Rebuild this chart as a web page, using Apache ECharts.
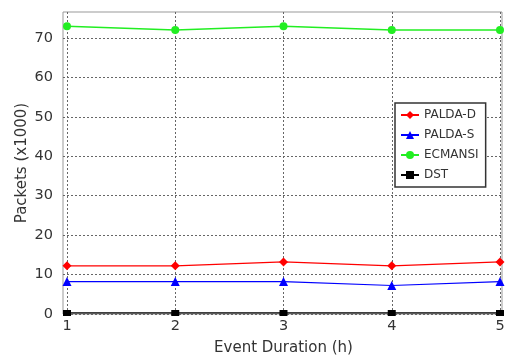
<!DOCTYPE html>
<html>
<head>
<meta charset="utf-8">
<script src="https://cdn.jsdelivr.net/npm/echarts@6/dist/echarts.min.js"></script>
<style>
html,body{margin:0;padding:0;background:#fff;}
#chart{width:509px;height:361px;}
</style>
</head>
<body>
<div id="chart"></div>
<script>
const durations = [1, 2, 3, 4, 5];
const paldaD = [12, 12, 13, 12, 13];
const paldaS = [8, 8, 8, 7, 8];
const ecmansi = [73, 72, 73, 72, 72];
const dst = [0, 0, 0, 0, 0];
const yTicks = [0, 10, 20, 30, 40, 50, 60, 70];

const pairs = vals => durations.map((d, i) => [d, vals[i]]);
const font = 'DejaVu Sans';
const txt = '#333';
const gridLine = { show: true, showMaxLine: false, lineStyle: { color: '#666', width: 1, type: [2, 2] } };

const chart = echarts.init(document.getElementById('chart'), null, { renderer: 'canvas' });
chart.setOption({
  animation: false,
  backgroundColor: '#fff',
  textStyle: { fontFamily: font },
  grid: [
    { left: 63, right: 7, top: 12, bottom: 47, show: true, borderColor: '#999', borderWidth: 1, backgroundColor: 'transparent' },
    { left: 67, right: 9, top: 12, bottom: 47 }
  ],
  xAxis: [
    { gridIndex: 0, type: 'value', min: 0, max: 1, show: false },
    {
      gridIndex: 1, type: 'value', min: durations[0], max: durations[durations.length - 1], interval: 1,
      axisLine: { show: false }, axisTick: { show: false },
      axisLabel: { color: txt, fontSize: 14.5, fontFamily: font, margin: 6 },
      splitLine: Object.assign({}, gridLine, { showMaxLine: true }),
      name: 'Event Duration (h)', nameLocation: 'middle', nameGap: 28, nameMoveOverlap: false,
      nameTextStyle: { color: txt, fontSize: 15, fontFamily: font }
    }
  ],
  yAxis: [
    {
      gridIndex: 0, type: 'value', min: yTicks[0], max: 76.6, interval: 10,
      axisLine: { show: false }, axisTick: { show: false },
      axisLabel: { color: txt, fontSize: 14.5, fontFamily: font, margin: 10, showMaxLabel: false },
      splitLine: gridLine,
      name: 'Packets (x1000)', nameLocation: 'middle', nameGap: 33, nameMoveOverlap: false,
      nameTextStyle: { color: txt, fontSize: 15, fontFamily: font }
    },
    { gridIndex: 1, type: 'value', min: yTicks[0], max: 76.6, show: false }
  ],
  legend: {
    orient: 'vertical', left: 395, top: 103,
    backgroundColor: '#fff', borderColor: '#333', borderWidth: 1.5,
    padding: [5, 7, 5, 5], itemGap: 6, itemWidth: 18, itemHeight: 10,
    textStyle: { color: txt, fontSize: 12, fontFamily: font, lineHeight: 14 },
    data: ['PALDA-D', 'PALDA-S', 'ECMANSI', 'DST']
  },
  series: [
    { name: 'PALDA-D', type: 'line', xAxisIndex: 1, yAxisIndex: 1, data: pairs(paldaD),
      symbol: 'diamond', symbolSize: 9, color: '#ff0000', lineStyle: { width: 1.2 } },
    { name: 'PALDA-S', type: 'line', xAxisIndex: 1, yAxisIndex: 1, data: pairs(paldaS),
      symbol: 'triangle', symbolSize: 9, color: '#0000ff', lineStyle: { width: 1.2 } },
    { name: 'ECMANSI', type: 'line', xAxisIndex: 1, yAxisIndex: 1, data: pairs(ecmansi),
      symbol: 'circle', symbolSize: 8, color: '#22ee22', lineStyle: { width: 1.5 } },
    { name: 'DST', type: 'line', xAxisIndex: 1, yAxisIndex: 1, data: pairs(dst),
      symbol: 'rect', symbolSize: [8, 6], color: '#000', lineStyle: { width: 1.5 } }
  ]
});
</script>
</body>
</html>
